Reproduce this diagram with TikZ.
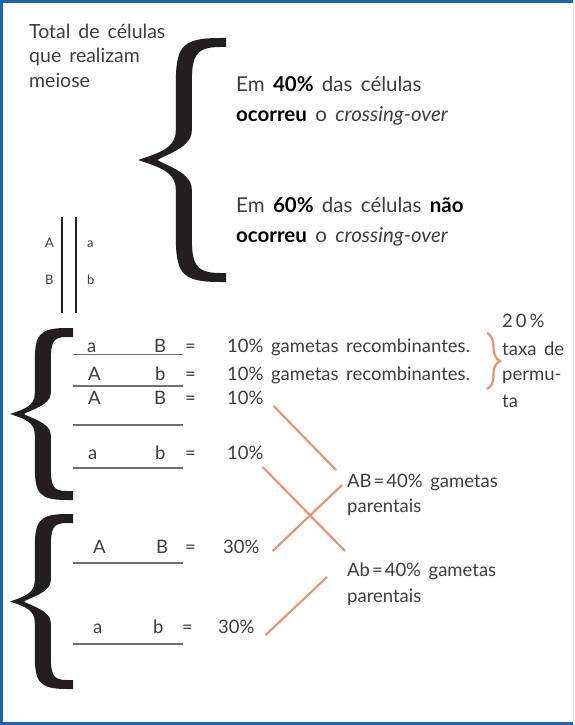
\documentclass[tikz,border=0pt]{standalone}
\usepackage{fontspec}
\setmainfont{Lato}[WordSpace=1.6]
\usepackage{tikz}
\usetikzlibrary{calc, decorations.pathreplacing}
\definecolor{framebl}{RGB}{30,100,178}
\definecolor{salmon}{RGB}{233,148,118}
\definecolor{inkgray}{RGB}{62,62,62}
\definecolor{inkblack}{RGB}{35,31,32}
\definecolor{rulegray}{RGB}{110,110,110}

\begin{document}
\begin{tikzpicture}[
  x=1pt, y=-1pt,
  font=\fontsize{18.5}{22}\selectfont,
  % Text lines
  txt/.style={anchor=base west, inner sep=0pt, text=inkgray},
  % Larger text of the upper part
  bigtxt/.style={txt, font=\fontsize{20.5}{24}\selectfont},
  % Gene letters beside the chromosomes
  genelbl/.style={txt, font=\fontsize{13}{15}\selectfont},
  % Chromosome strands
  strand/.style={draw=inkblack, line width=2.6pt},
  % Rule under each gamete
  gamrule/.style={draw=rulegray, line width=1.8pt},
  % Lines to the parental classes
  linkline/.style={draw=salmon, line width=2.2pt},
  % Small brace of the exchange rate
  permbrace/.style={draw=salmon, line width=2.3pt, decorate,
    decoration={brace, amplitude=13pt}},
  % Curly bracket, #1 = width, #2 = height
  pics/curly/.style 2 args={code={
    \fill[inkblack]
      (#1,0) -- ({#1-6},0)
      .. controls ({0.52*#1-4},0) and ({0.52*#1-8},{0.04*#2}) .. ({0.52*#1-8},{0.2*#2})
      -- ({0.52*#1-8},{0.38*#2})
      .. controls ({0.52*#1-8},{0.45*#2}) and ({0.25*#1},{0.47*#2}) .. (0,{0.5*#2})
      .. controls ({0.25*#1},{0.53*#2}) and ({0.52*#1-8},{0.55*#2}) .. ({0.52*#1-8},{0.62*#2})
      -- ({0.52*#1-8},{0.8*#2})
      .. controls ({0.52*#1-8},{0.96*#2}) and ({0.52*#1-4},{#2}) .. ({#1-6},{#2})
      -- (#1,{#2}) -- (#1,{#2-9}) -- ({#1-6},{#2-9})
      .. controls ({0.52*#1+10},{#2-9}) and ({0.52*#1+8},{0.92*#2}) .. ({0.52*#1+8},{0.8*#2})
      -- ({0.52*#1+8},{0.62*#2})
      .. controls ({0.52*#1+8},{0.55*#2}) and ({0.3*#1},{0.52*#2}) .. ({0.22*#1},{0.5*#2})
      .. controls ({0.3*#1},{0.48*#2}) and ({0.52*#1+8},{0.45*#2}) .. ({0.52*#1+8},{0.38*#2})
      -- ({0.52*#1+8},{0.2*#2})
      .. controls ({0.52*#1+8},{0.08*#2}) and ({0.52*#1+10},9) .. ({#1-6},9)
      -- (#1,9) -- cycle;
  }}
]
\useasboundingbox (0,0) rectangle (574,725);

% === FRAME ===
\draw[framebl, line width=3pt] (573,1.5) -- (1.5,1.5) -- (1.5,723) -- (573,723);
\draw[gray!25, line width=1pt] (573,3) -- (573,721);

% === CELLS THAT UNDERGO MEIOSIS ===
\node[txt, font=\fontsize{19.5}{24}\selectfont] (tot1) at (29,38) {Total de células};
\node[txt, font=\fontsize{19.5}{24}\selectfont] (tot2) at (29,63) {que realizam};
\node[txt, font=\fontsize{19.5}{24}\selectfont] (tot3) at (29,88) {meiose};
\pic at (138,38) {curly={88}{244}};

\node[bigtxt] (co1) at (236,91) {Em \textbf{\color{black}40\%} das células};
\node[bigtxt] (co2) at (236,121) {\textbf{\color{black}ocorreu} o \textit{crossing-over}};
\node[bigtxt] (nco1) at (236,212) {Em \textbf{\color{black}60\%} das células \textbf{\color{black}não}};
\node[bigtxt] (nco2) at (236,242) {\textbf{\color{black}ocorreu} o \textit{crossing-over}};

% === CHROMOSOME PAIR ===
\draw[strand] (62,217) -- (62,313);
\draw[strand] (76,217) -- (76,313);
\node[genelbl] (gA) at (45,247) {A};
\node[genelbl] (gB) at (45,284) {B};
\node[genelbl] (ga) at (87,247) {a};
\node[genelbl] (gb) at (87,284) {b};

% === GAMETES WITH CROSSING-OVER ===
\pic at (10,328) {curly={63}{172}};
\node[txt] (r1a) at (87,352) {a};
\node[txt] (r1b) at (154,352) {B};
\node[txt] (r1eq) at (185,352) {=};
\node[txt] (rec1) at (227,352) {10\% gametas recombinantes.};
\draw[gamrule] (73,354.5) -- (183,354.5);

\node[txt] (r2a) at (88,380) {A};
\node[txt] (r2b) at (155,380) {b};
\node[txt] (r2eq) at (185,380) {=};
\node[txt] (rec2) at (227,380) {10\% gametas recombinantes.};
\draw[gamrule] (73,386) -- (183,386);

\node[txt] (r3a) at (88,404) {A};
\node[txt] (r3b) at (154,404) {B};
\node[txt] (r3eq) at (185,404) {=};
\node[txt] (pct3) at (227,404) {10\%};
\draw[gamrule] (73,425) -- (183,425);

\node[txt] (r4a) at (88,459) {a};
\node[txt] (r4b) at (155,459) {b};
\node[txt] (r4eq) at (185,459) {=};
\node[txt] (pct4) at (227,459) {10\%};
\draw[gamrule] (73,468) -- (183,468);

% === GAMETES WITHOUT CROSSING-OVER ===
\pic at (10,514) {curly={63}{175}};
\node[txt] (r5a) at (93,553) {A};
\node[txt] (r5b) at (156,553) {B};
\node[txt] (r5eq) at (185,553) {=};
\node[txt] (pct5) at (223,553) {30\%};
\draw[gamrule] (73,563) -- (183,563);

\node[txt] (r6a) at (93,633) {a};
\node[txt] (r6b) at (153,633) {b};
\node[txt] (r6eq) at (182,633) {=};
\node[txt] (pct6) at (218,633) {30\%};
\draw[gamrule] (73,644) -- (183,644);

% === EXCHANGE RATE ===
\coordinate (brtop) at (487,333);
\coordinate (brbot) at (487,389);
\draw[permbrace] (brtop) -- (brbot);
\node[txt] (rate1) at (502,327) {2\kern3pt0\kern3pt\%};
\node[txt] (rate2) at (502,355) {taxa de};
\node[txt] (rate3) at (502,380) {permu-};
\node[txt] (rate4) at (502,407) {ta};

% === PARENTAL CLASSES ===
\node[txt] (ab1) at (347,487) {AB\kern2pt=\kern2pt40\% gametas};
\node[txt] (ab2) at (347,512) {parentais};
\node[txt] (abb1) at (347,576) {Ab\kern2pt=\kern2pt40\% gametas};
\node[txt] (abb2) at (347,602) {parentais};

\draw[linkline] ($(pct3.base east)+(10,2)$) -- ($(ab1.base west)+(-11,-17)$);
\draw[linkline] ($(pct4.base east)+(-1,8)$) -- ($(abb1.base west)+(-2,-25)$);
\draw[linkline] ($(pct5.base east)+(13,-2)$) -- ($(ab1.base west)+(-5,-2)$);
\draw[linkline] ($(pct6.base east)+(11,2)$) -- ($(abb1.base west)+(-20,1)$);

\end{tikzpicture}
\end{document}
